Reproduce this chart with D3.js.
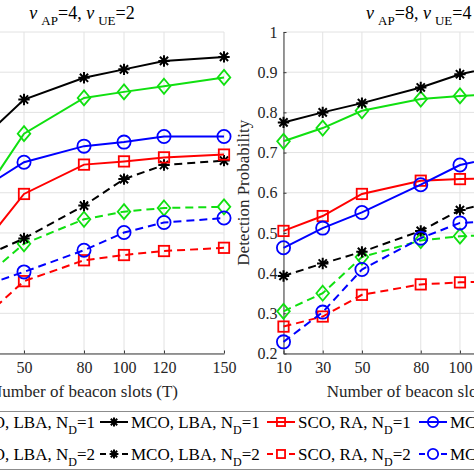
<!DOCTYPE html>
<html>
<head>
<meta charset="utf-8">
<script src="https://cdn.jsdelivr.net/npm/d3@7"></script>
<style>
  body { margin: 0; background: #fff; }
  svg { display: block; font-family: "Times New Roman", "Liberation Serif", serif; }
  .grid line { stroke: #e2e2e2; stroke-width: 1; }
  .axis path, .axis line { stroke: #3a3a3a; }
  .axis text { fill: #262626; font-size: 16px; font-family: "Times New Roman", "Liberation Serif", serif; }
</style>
</head>
<body>
<svg width="474" height="474"></svg>
<script>
// x positions (beacon slots) shared by both panels
var slots = [10, 30, 50, 80, 100, 120, 150];
var yTicks = [0.2, 0.3, 0.4, 0.5, 0.6, 0.7, 0.8, 0.9, 1];

// left panel: nu_AP=4, nu_UE=2
var leftSco1 = [0.45, 0.598, 0.747, 0.836, 0.851, 0.865, 0.887];
var leftMco1 = [0.60, 0.738, 0.832, 0.886, 0.907, 0.928, 0.938];
var leftScoRa1 = [0.36, 0.472, 0.597, 0.670, 0.678, 0.688, 0.695];
var leftMcoRa1 = [0.52, 0.613, 0.676, 0.716, 0.726, 0.740, 0.740];
var leftSco2 = [0.30, 0.388, 0.473, 0.534, 0.553, 0.562, 0.565];
var leftMco2 = [0.38, 0.442, 0.486, 0.568, 0.634, 0.669, 0.680];
var leftScoRa2 = [0.22, 0.290, 0.380, 0.432, 0.445, 0.455, 0.463];
var leftMcoRa2 = [0.31, 0.369, 0.403, 0.457, 0.501, 0.526, 0.537];

// right panel: nu_AP=8, nu_UE=4
var rightSco1 = [0.728, 0.761, 0.804, 0.833, 0.841, 0.845, 0.850];
var rightMco1 = [0.775, 0.800, 0.823, 0.862, 0.895, 0.915, 0.930];
var rightScoRa1 = [0.505, 0.542, 0.597, 0.630, 0.634, 0.637, 0.640];
var rightMcoRa1 = [0.463, 0.512, 0.551, 0.620, 0.669, 0.690, 0.710];
var rightSco2 = [0.305, 0.350, 0.440, 0.481, 0.492, 0.495, 0.500];
var rightMco2 = [0.393, 0.424, 0.453, 0.505, 0.557, 0.580, 0.600];
var rightScoRa2 = [0.267, 0.292, 0.346, 0.372, 0.377, 0.380, 0.385];
var rightMcoRa2 = [0.229, 0.303, 0.409, 0.487, 0.525, 0.530, 0.540];

var legendNames = ["SCO, LBA, N", "MCO, LBA, N", "SCO, RA, N", "MCO, RA, N"];
var colors = ["#10e010", "#000000", "#ff0000", "#0000ff"];
var markers = ["diamond", "star", "square", "circle"];

var svg = d3.select("svg");
var y = d3.scaleLinear().domain([0.2, 1]).range([353.5, 32]);

function drawMarker(g, type, cx, cy, col, sc) {
	sc = sc || 1;
	if (type == "circle") {
		g.append("circle").attr("cx", cx).attr("cy", cy).attr("r", 6.6 * sc)
			.attr("fill", "none").attr("stroke", col).attr("stroke-width", 1.8);
	} else if (type == "square") {
		var h = 5.2 * sc;
		g.append("rect").attr("x", cx - h).attr("y", cy - h).attr("width", 2 * h).attr("height", 2 * h)
			.attr("fill", "none").attr("stroke", col).attr("stroke-width", 1.8);
	} else if (type == "diamond") {
		var a = 7.5 * sc, b = 6.3 * sc;
		g.append("path").attr("d", "M" + cx + "," + (cy - a) + "L" + (cx + b) + "," + cy +
			"L" + cx + "," + (cy + a) + "L" + (cx - b) + "," + cy + "Z")
			.attr("fill", "none").attr("stroke", col).attr("stroke-width", 1.8);
	} else {
		var r = 5.7 * sc, d = r * 0.72;
		g.append("path").attr("d",
			"M" + (cx - r) + "," + cy + "L" + (cx + r) + "," + cy +
			"M" + cx + "," + (cy - r) + "L" + cx + "," + (cy + r) +
			"M" + (cx - d) + "," + (cy - d) + "L" + (cx + d) + "," + (cy + d) +
			"M" + (cx - d) + "," + (cy + d) + "L" + (cx + d) + "," + (cy - d))
			.attr("stroke", col).attr("stroke-width", 2);
	}
}

function drawPanel(x, series, nuAP, nuUE, showYLabel) {
	var g = svg.append("g");

	//grid
	var grid = g.append("g").attr("class", "grid");
	grid.selectAll(".vx").data(slots).enter().append("line")
		.attr("x1", function(d) { return x(d); }).attr("x2", function(d) { return x(d); })
		.attr("y1", y(0.2)).attr("y2", y(1));
	grid.selectAll(".hy").data(yTicks).enter().append("line")
		.attr("x1", x(10)).attr("x2", x(150))
		.attr("y1", function(d) { return y(d); }).attr("y2", function(d) { return y(d); });

	//axes, ticks inward
	g.append("g").attr("class", "axis")
		.attr("transform", "translate(0," + y(0.2) + ")")
		.call(d3.axisBottom(x).tickValues(slots).tickSizeInner(-3).tickSizeOuter(0).tickPadding(8))
		.call(function(a) { a.selectAll("text").attr("dy", "0.71em"); });
	if (showYLabel) {
		g.append("g").attr("class", "axis")
			.attr("transform", "translate(" + x(10) + ",0)")
			.call(d3.axisLeft(y).tickValues(yTicks).tickSizeInner(-3).tickSizeOuter(0).tickPadding(6)
				.tickFormat(function(d) { return d == 1 ? "1" : d3.format(".1f")(d); }));
	}

	//lines + markers
	series.forEach(function(s) {
		var line = d3.line().x(function(d, i) { return x(slots[i]); }).y(function(d) { return y(d); });
		g.append("path").attr("d", line(s.values))
			.attr("fill", "none").attr("stroke", s.color).attr("stroke-width", 2)
			.attr("stroke-dasharray", s.dashed ? "8,5" : null);
		s.values.forEach(function(v, i) {
			drawMarker(g, s.marker, x(slots[i]), y(v), s.color);
		});
	});

	//title
	var cx = (x(10) + x(150)) / 2;
	var t = g.append("text").attr("x", cx - 2).attr("y", 18.5).attr("text-anchor", "middle")
		.attr("font-size", "18px").attr("fill", "#000");
	t.append("tspan").attr("font-style", "italic").text("ν");
	t.append("tspan").attr("font-size", "13px").attr("dx", 4).attr("dy", 6.5).text("AP");
	t.append("tspan").attr("dy", -6.5).text("=" + nuAP + ", ");
	t.append("tspan").attr("font-style", "italic").text("ν");
	t.append("tspan").attr("font-size", "13px").attr("dx", 4).attr("dy", 6.5).text("UE");
	t.append("tspan").attr("dy", -6.5).text("=" + nuUE);

	//x label
	g.append("text").attr("x", cx).attr("y", 397).attr("text-anchor", "middle")
		.attr("font-size", "17px").attr("fill", "#262626").text("Number of beacon slots (T)");

	if (showYLabel) {
		g.append("text").attr("text-anchor", "middle")
			.attr("transform", "translate(249," + ((y(0.2) + y(1)) / 2) + ") rotate(-90)")
			.attr("font-size", "17px").attr("fill", "#262626").text("Detection Probability");
	}
}

function makeSeries(a, b, c, d, e, f, gg, h) {
	var ones = [a, b, c, d], twos = [e, f, gg, h];
	var out = [];
	[0, 1, 2, 3].forEach(function(k) {
		out.push({ values: ones[k], color: colors[k], marker: markers[k], dashed: false });
		out.push({ values: twos[k], color: colors[k], marker: markers[k], dashed: true });
	});
	return out;
}

var xLeft = d3.scaleLinear().domain([10, 150]).range([-56, 224]);
var xRight = d3.scaleLinear().domain([10, 150]).range([283.5, 558]);

drawPanel(xLeft, makeSeries(leftSco1, leftMco1, leftScoRa1, leftMcoRa1, leftSco2, leftMco2, leftScoRa2, leftMcoRa2), 4, 2, false);
drawPanel(xRight, makeSeries(rightSco1, rightMco1, rightScoRa1, rightMcoRa1, rightSco2, rightMco2, rightScoRa2, rightMcoRa2), 8, 4, true);

//legend
var lg = svg.append("g");
lg.append("rect").attr("x", -100).attr("y", 411.5).attr("width", 700).attr("height", 58)
	.attr("fill", "#fff").attr("stroke", "#8c8c8c").attr("stroke-width", 1);

var colStart = [null, 100, 267, 419]; // sample start for visible columns
var rowY = [428, 460];
[0, 1].forEach(function(row) {
	legendNames.forEach(function(name, k) {
		var sx;
		var txt = lg.append("text").attr("y", rowY[row]).attr("font-size", "17px").attr("fill", "#000");
		txt.append("tspan").text(name);
		txt.append("tspan").attr("font-size", "12px").attr("dy", 6).text("D");
		txt.append("tspan").attr("dy", -6).text("=" + (row + 1));
		if (k == 0) {
			txt.attr("x", 95).attr("text-anchor", "end");
			sx = 95 - txt.node().getComputedTextLength() - 35;
		} else {
			sx = colStart[k];
			txt.attr("x", sx + 31);
		}
		var my = rowY[row] - 6;
		lg.append("line").attr("x1", sx).attr("x2", sx + 28).attr("y1", my).attr("y2", my)
			.attr("stroke", colors[k]).attr("stroke-width", 2)
			.attr("stroke-dasharray", row == 1 ? "6,16" : null)
			.attr("stroke-dashoffset", row == 1 ? 0 : null);
		drawMarker(lg, markers[k], sx + 14, my, colors[k], 0.78);
	});
});
</script>
</body>
</html>
